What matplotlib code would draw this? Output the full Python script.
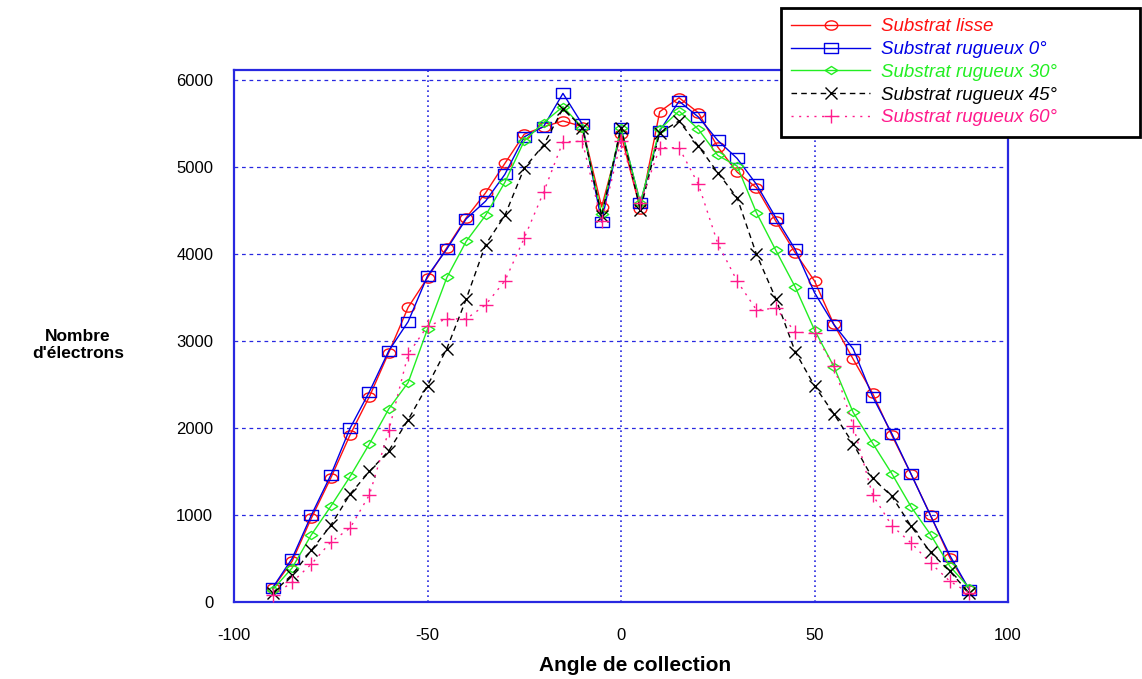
import numpy as np
import matplotlib
matplotlib.use("Agg")
import matplotlib.pyplot as plt
from matplotlib.path import Path
from matplotlib.transforms import Affine2D

plt.rcParams["font.family"] = ["Liberation Sans", "DejaVu Sans"]
plt.rcParams["axes.unicode_minus"] = False

# ---- Données ----
angles = [-90, -85, -80, -75, -70, -65, -60, -55, -50, -45, -40, -35, -30, -25,
          -20, -15, -10, -5, 0, 5, 10, 15, 20, 25, 30, 35, 40, 45, 50, 55, 60,
          65, 70, 75, 80, 85, 90]

lisse = [160, 467, 966, 1425, 1923, 2364, 2870, 3390, 3730, 4076, 4420, 4706,
         5046, 5382, 5466, 5534, 5470, 4545, 5380, 4517, 5640, 5801, 5628, 5234,
         4946, 4766, 4383, 4019, 3693, 3195, 2793, 2402, 1916, 1467, 996, 506, 142]
rug_0 = [165, 500, 1000, 1460, 2000, 2420, 2890, 3225, 3750, 4060, 4408, 4611,
         4920, 5351, 5470, 5851, 5496, 4372, 5456, 4586, 5418, 5762, 5579, 5310,
         5103, 4805, 4421, 4057, 3559, 3192, 2912, 2364, 1935, 1467, 992, 533, 142]
rug_30 = [142, 391, 774, 1100, 1444, 1820, 2222, 2525, 3140, 3733, 4149, 4447,
          4828, 5305, 5515, 5698, 5458, 4460, 5458, 4594, 5437, 5648, 5437, 5138,
          5015, 4479, 4046, 3625, 3130, 2709, 2180, 1828, 1475, 1092, 774, 410, 161]
rug_45 = [103, 314, 594, 881, 1241, 1502, 1739, 2096, 2490, 2915, 3485, 4111,
          4447, 4992, 5256, 5676, 5458, 4440, 5458, 4510, 5398, 5533, 5245, 4939,
          4651, 4000, 3490, 2880, 2487, 2165, 1820, 1425, 1215, 870, 571, 352, 103]
rug_60 = [75, 226, 437, 690, 851, 1234, 1973, 2851, 3175, 3257, 3257, 3418,
          3695, 4187, 4714, 5294, 5300, 4378, 5300, 4594, 5226, 5226, 4805, 4126,
          3693, 3360, 3379, 3107, 3090, 2716, 2027, 1234, 877, 678, 448, 238, 103]

x_ticks = [-100, -50, 0, 50, 100]
y_ticks = [0, 1000, 2000, 3000, 4000, 5000, 6000]

# marqueurs un peu aplatis comme sur l'original
ellipse = Path.unit_circle().transformed(Affine2D().scale(1.35, 1.0))
rect = Path([(-1.3, -1), (1.3, -1), (1.3, 1), (-1.3, 1), (-1.3, -1)],
            [Path.MOVETO, Path.LINETO, Path.LINETO, Path.LINETO, Path.CLOSEPOLY])
losange = Path([(-1.4, 0), (0, 0.9), (1.4, 0), (0, -0.9), (-1.4, 0)],
               [Path.MOVETO, Path.LINETO, Path.LINETO, Path.LINETO, Path.CLOSEPOLY])

bleu_cadre = "#2828E0"

fig = plt.figure(figsize=(11.42, 6.79), dpi=100)
ax = fig.add_axes([234 / 1142, 1 - 602 / 679, 774 / 1142, 532 / 679])

series = [
    (lisse, "Substrat lisse", "#FF1010", "-", ellipse, 9),
    (rug_0, "Substrat rugueux 0°", "#0000E6", "-", rect, 10),
    (rug_30, "Substrat rugueux 30°", "#22EE22", "-", losange, 9),
    (rug_45, "Substrat rugueux 45°", "black", (0, (4, 3)), "x", 9),
    (rug_60, "Substrat rugueux 60°", "#FF1A8C", (0, (1.5, 4)), "+", 10),
]
for vals, nom, coul, ls, mk, ms in series:
    ax.plot(angles, vals, linestyle=ls, color=coul, linewidth=1.0,
            marker=mk, markersize=ms, markerfacecolor="none",
            markeredgecolor=coul, markeredgewidth=1.0, label=nom, zorder=3)

ax.set_xlim(-100, 100)
ax.set_ylim(0, 6120)
ax.set_xticks(x_ticks)
ax.set_yticks(y_ticks)
ax.tick_params(axis="both", length=0, labelsize=12)
ax.tick_params(axis="y", pad=15)
ax.tick_params(axis="x", pad=19)

ax.grid(True, axis="y", color=bleu_cadre, linestyle=(0, (3, 3)), linewidth=0.9)
ax.grid(True, axis="x", color=bleu_cadre, linestyle=(0, (1, 2)), linewidth=1.2)
for s in ax.spines.values():
    s.set_color(bleu_cadre)
    s.set_linewidth(1.6)

ax.set_xlabel("Angle de collection", fontsize=15, fontweight="bold", va="center")
ax.xaxis.set_label_coords(0.518, -0.12)
ax.set_ylabel("Nombre\nd'électrons", fontsize=12.5, fontweight="bold",
              rotation=0, ha="center", va="center", multialignment="center")
ax.yaxis.set_label_coords(-0.2016, 0.483)

leg = fig.legend(loc="upper left", mode="expand",
                 bbox_to_anchor=(781 / 1142, 1 - 137 / 679, 359 / 1142, 129 / 679),
                 borderaxespad=0, fontsize=13.5, labelspacing=0.3,
                 handlelength=4.2, handletextpad=0.6, numpoints=1,
                 fancybox=False, framealpha=1, edgecolor="black",
                 labelcolor="linecolor", borderpad=0.55)
leg.get_frame().set_linewidth(2)
for t in leg.get_texts():
    t.set_fontstyle("italic")

fig.savefig("out.png", dpi=100, facecolor="white")
